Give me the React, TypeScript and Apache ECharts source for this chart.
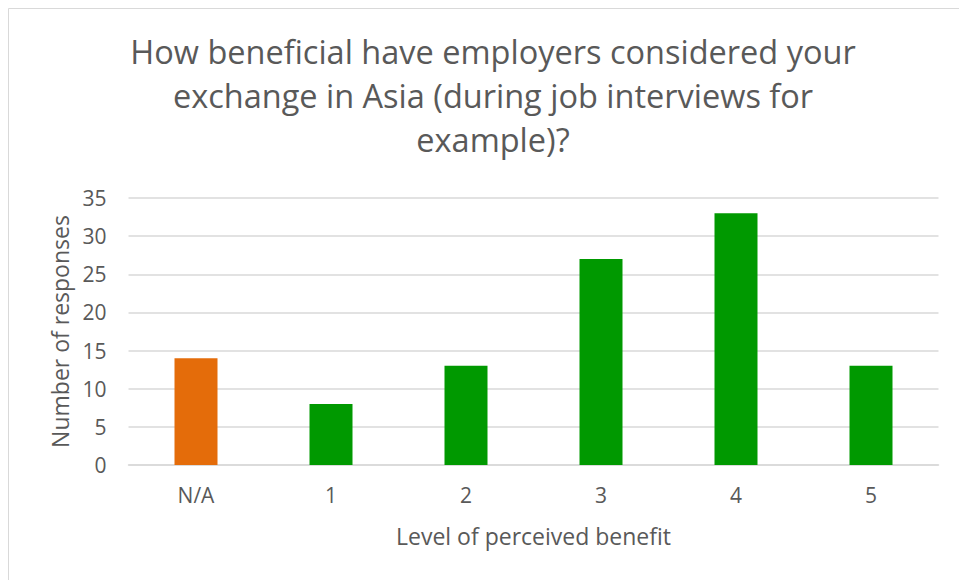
import React, { useEffect, useRef } from "react";
import * as echarts from "echarts";

const categories = ["N/A", "1", "2", "3", "4", "5"];
const values = [14, 8, 13, 27, 33, 13];
const barColors = ["#E46C0A", "#009900", "#009900", "#009900", "#009900", "#009900"];
const titleLines = [
  "How beneficial have employers considered your",
  "exchange in Asia (during job interviews for",
  "example)?",
];
const yAxisName = "Number of responses";
const xAxisName = "Level of perceived benefit";

export default function App() {
  const ref = useRef<HTMLDivElement>(null);
  useEffect(() => {
    if (!ref.current) return;
    const chart = echarts.init(ref.current, null, { renderer: "svg" });
    const font = "'Open Sans', sans-serif";
    chart.setOption({
      animation: false,
      backgroundColor: "#ffffff",
      textStyle: { fontFamily: font },
      title: {
        text: titleLines.join("\n"),
        left: 488,
        top: 24,
        textAlign: "center",
        textStyle: {
          fontFamily: font,
          fontSize: 32.5,
          fontWeight: "normal",
          color: "#595959",
          lineHeight: 44,
        },
      },
      graphic: [
        {
          type: "rect",
          shape: { x: 8.5, y: 8.5, width: 1000, height: 1000 },
          style: { fill: "none", stroke: "#d9d9d9", lineWidth: 1 },
          silent: true,
        },
      ],
      grid: { left: 128.5, right: 20.5, top: 198, bottom: 115 },
      xAxis: {
        type: "category",
        data: categories,
        name: xAxisName,
        nameLocation: "middle",
        nameGap: 59,
        nameTextStyle: { fontFamily: font, fontSize: 23, color: "#595959" },
        axisLine: { lineStyle: { color: "#d9d9d9", width: 1.5 } },
        axisTick: { show: false },
        axisLabel: { fontFamily: font, fontSize: 21, color: "#595959", margin: 19 },
      },
      yAxis: {
        type: "value",
        min: 0,
        max: 35,
        interval: 5,
        name: yAxisName,
        nameLocation: "middle",
        nameGap: 55,
        nameTextStyle: { fontFamily: font, fontSize: 23, color: "#595959" },
        axisLine: { show: false },
        axisTick: { show: false },
        axisLabel: { fontFamily: font, fontSize: 21, color: "#595959", margin: 22 },
        splitLine: { lineStyle: { color: "#d9d9d9", width: 1.5 } },
      },
      series: [
        {
          type: "bar",
          data: values.map((v, i) => ({ value: v, itemStyle: { color: barColors[i] } })),
          barWidth: 43,
        },
      ],
    });
    return () => chart.dispose();
  }, []);
  return (
    <div
      ref={ref}
      style={{ position: "absolute", left: 0, top: 0, width: 959, height: 580 }}
    />
  );
}
